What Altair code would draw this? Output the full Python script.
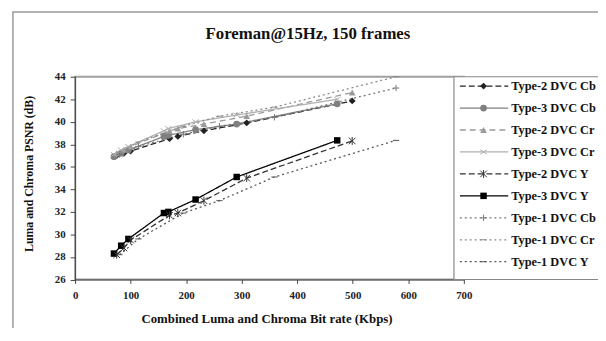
import altair as alt
import pandas as pd

# ---------------- data ----------------
x_type1 = [80, 114, 195, 260, 359, 578]
x_type2 = [75, 88, 100, 170, 185, 232, 309, 499]
x_type3 = [70, 83, 96, 160, 168, 217, 291, 472]

y_t2_cb = [37.0, 37.2, 37.4, 38.5, 38.7, 39.2, 39.9, 41.85]
y_t3_cb = [36.9, 37.2, 37.5, 38.7, 38.8, 39.3, 39.8, 41.6]
y_t2_cr = [37.2, 37.5, 37.8, 39.2, 39.4, 39.8, 40.5, 42.6]
y_t3_cr = [37.1, 37.5, 37.8, 39.2, 39.4, 40.0, 40.6, 42.0]
y_t2_y = [28.2, 28.8, 29.5, 31.7, 31.9, 33.0, 35.0, 38.3]
y_t3_y = [28.3, 29.0, 29.6, 31.9, 32.0, 33.1, 35.1, 38.35]
y_t1_cb = [37.1, 37.8, 38.9, 39.6, 40.4, 43.0]
y_t1_cr = [37.3, 38.2, 39.6, 40.5, 41.3, 44.0]
y_t1_y = [28.2, 29.6, 31.9, 33.0, 35.1, 38.35]

series_names = ["Type-2 DVC Cb", "Type-3 DVC Cb", "Type-2 DVC Cr", "Type-3 DVC Cr",
                "Type-2 DVC Y", "Type-3 DVC Y", "Type-1 DVC Cb", "Type-1 DVC Cr", "Type-1 DVC Y"]
series_x = [x_type2, x_type3, x_type2, x_type3, x_type2, x_type3, x_type1, x_type1, x_type1]
series_y = [y_t2_cb, y_t3_cb, y_t2_cr, y_t3_cr, y_t2_y, y_t3_y, y_t1_cb, y_t1_cr, y_t1_y]

x_ticks = [0, 100, 200, 300, 400, 500, 600, 700]
y_ticks = [26, 28, 30, 32, 34, 36, 38, 40, 42, 44]
title_text = "Foreman@15Hz, 150 frames"

# ---------------- styles ----------------
line_colors = ["#222222", "#808080", "#9a9a9a", "#b0b0b0", "#333333", "#000000", "#777777", "#8a8a8a", "#555555"]
marker_colors = ["#000000", "#7a7a7a", "#6a6a6a", "#8a8a8a", "#333333", "#000000", "#707070", "#606060", "#444444"]
dashes = [[6, 3], [1, 0], [6, 4], [1, 0], [6, 3], [1, 0], [2, 3], [2, 3], [2, 3]]
ASTER = "M-1,-1L1,1M-1,1L1,-1M0,-1.2L0,1.2"
XMARK = "M-1,-0.7L1,0.7M-1,0.7L1,-0.7"
PLUS = "M-1,0L1,0M0,-1L0,1"
DASH = "M-1,0L1,0"
shapes = ["diamond", "circle", "triangle-up", XMARK, ASTER, "square", PLUS, DASH, DASH]
filled = [True, True, True, False, False, True, False, False, False]
sizes = [48, 40, 50, 55, 60, 50, 55, 45, 65]
mark_widths = [1, 1, 1, 1.5, 1.5, 1, 1.5, 2, 2.5]

rows = []
for name, xs_, ys_ in zip(series_names, series_x, series_y):
    for xv, yv in zip(xs_, ys_):
        rows.append({"series": name, "rate": xv, "psnr": yv})
df = pd.DataFrame(rows)
df["filled"] = df["series"].map(dict(zip(series_names, filled)))

FONT = "Liberation Serif"
W, H = 394, 205.5

xs = alt.Scale(domain=[0, 700], nice=False)
ys = alt.Scale(domain=[26, 44], nice=False, zero=False)
col_line = alt.Color("series:N", scale=alt.Scale(domain=series_names, range=line_colors), legend=None)
col_mark = alt.Color("series:N", scale=alt.Scale(domain=series_names, range=marker_colors), legend=None)
dash_enc = alt.StrokeDash("series:N", scale=alt.Scale(domain=series_names, range=dashes), legend=None)
shape_enc = alt.Shape("series:N", scale=alt.Scale(domain=series_names, range=shapes), legend=None)
size_enc = alt.Size("series:N", scale=alt.Scale(domain=series_names, range=sizes), legend=None)
sw_enc = alt.StrokeWidth("series:N", scale=alt.Scale(domain=series_names, range=mark_widths), legend=None)

x_axis = alt.Axis(
    values=x_ticks, grid=False, tickSize=4, labelPadding=6, domainColor="#444", tickColor="#444",
    labelFont=FONT, labelFontWeight="bold", labelFontSize=11, labelColor="#222",
    labelOverlap=False, labelBound=False, labelFlush=False,
    title="Combined Luma and Chroma Bit rate (Kbps)", titleFont=FONT, titleFontSize=13,
    titleFontWeight="bold", titleColor="#111", titleX=194, titleY=40, titleBaseline="middle")
y_axis = alt.Axis(
    values=y_ticks, grid=False, tickSize=5, labelPadding=5, domainColor="#444", tickColor="#444",
    labelFont=FONT, labelFontWeight="bold", labelFontSize=11, labelColor="#222",
    labelOverlap=False, labelBound=False, labelFlush=False,
    title="Luma and Chroma PSNR (dB)", titleFont=FONT, titleFontSize=12,
    titleFontWeight="bold", titleColor="#111", titleX=-47, titleY=98, titleBaseline="middle")
x_enc = alt.X("rate:Q", scale=xs, axis=x_axis)
y_enc = alt.Y("psnr:Q", scale=ys, axis=y_axis)

base = alt.Chart(df)
lines = base.mark_line(strokeWidth=1.3).encode(
    x=x_enc, y=y_enc, color=col_line, strokeDash=dash_enc, detail="series:N")
pts_f = base.transform_filter("datum.filled").mark_point(filled=True, opacity=1).encode(
    x=x_enc, y=y_enc, color=col_mark, shape=shape_enc, size=size_enc)
pts_o = base.transform_filter("!datum.filled").mark_point(filled=False, opacity=1).encode(
    x=x_enc, y=y_enc, color=col_mark, shape=shape_enc, size=size_enc, strokeWidth=sw_enc)

# outer frame, title and legend box
frame = alt.Chart(pd.DataFrame({"k": [0]})).mark_rect(
    fill="white", fillOpacity=0, stroke="#9a9a9a", strokeWidth=1.5).encode(
    x=alt.value(-63), x2=alt.value(560), y=alt.value(-65.5), y2=alt.value(300))
title = alt.Chart(pd.DataFrame({"t": [title_text]})).mark_text(
    font=FONT, fontSize=17, fontWeight="bold", color="#111", align="center", baseline="middle").encode(
    x=alt.value(236), y=alt.value(-43), text="t:N")
leg_box = alt.Chart(pd.DataFrame({"k": [0]})).mark_rect(
    fill="white", stroke="#888888", strokeWidth=1.2).encode(
    x=alt.value(384), x2=alt.value(560), y=alt.value(0), y2=alt.value(H))

layers = [lines, pts_f, pts_o, frame, title, leg_box]
row_step = 22.25
for i, name in enumerate(series_names):
    ly = 9.5 + i * row_step
    d = pd.DataFrame({"series": [name], "filled": [filled[i]]})
    lc = alt.Chart(d)
    layers.append(lc.mark_rule(strokeWidth=1.3).encode(
        x=alt.value(390), x2=alt.value(439), y=alt.value(ly), color=col_line, strokeDash=dash_enc))
    if filled[i]:
        layers.append(lc.mark_point(filled=True, opacity=1).encode(
            x=alt.value(414), y=alt.value(ly), color=col_mark, shape=shape_enc, size=size_enc))
    else:
        layers.append(lc.mark_point(filled=False, opacity=1).encode(
            x=alt.value(414), y=alt.value(ly), color=col_mark, shape=shape_enc, size=size_enc,
            strokeWidth=sw_enc))
    layers.append(lc.mark_text(align="left", baseline="middle", font=FONT, fontWeight="bold",
                               fontSize=12.5, color="#111").encode(
        x=alt.value(442), y=alt.value(ly), text="series:N"))

chart = alt.layer(*layers).properties(
    width=W, height=H,
    autosize=alt.AutoSizeParams(type="none"),
    padding={"left": 68, "top": 67.5, "right": 136, "bottom": 47},
).configure_view(stroke="#a0a0a0", strokeWidth=2).configure_axis(labelOverlap=False)

chart.save("out.html", embed_options={"renderer": "svg", "actions": False})
